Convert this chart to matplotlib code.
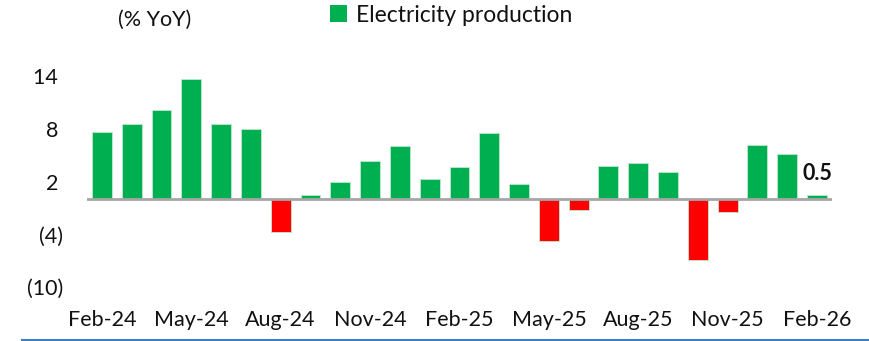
import matplotlib
matplotlib.use("Agg")
import matplotlib.pyplot as plt
from matplotlib.patches import Patch
from matplotlib.lines import Line2D

plt.rcParams['font.family'] = ['Lato', 'DejaVu Sans']

months = ["Feb-24", "Mar-24", "Apr-24", "May-24", "Jun-24", "Jul-24", "Aug-24",
          "Sep-24", "Oct-24", "Nov-24", "Dec-24", "Jan-25", "Feb-25", "Mar-25",
          "Apr-25", "May-25", "Jun-25", "Jul-25", "Aug-25", "Sep-25", "Oct-25",
          "Nov-25", "Dec-25", "Jan-26", "Feb-26"]
yoy = [7.6, 8.6, 10.2, 13.7, 8.5, 8.0, -3.7, 0.5, 2.0, 4.4, 6.1, 2.3, 3.7, 7.5,
       1.7, -4.7, -1.2, 3.8, 4.1, 3.1, -6.9, -1.5, 6.2, 5.1, 0.5]
y_ticks = [-10, -4, 2, 8, 14]
y_tick_labels = ["(10)", "(4)", "2 ", "8 ", "14 "]
series_name = "Electricity production"

GREEN = "#00b050"
RED = "#ff0000"
TEXT = "#111111"

fig = plt.figure(figsize=(8.69, 3.41), dpi=100)
fig.patch.set_facecolor("white")
ax = fig.add_axes([0.1001, 0.1575, 0.8573, 0.671])

x = list(range(len(months)))
colors = [GREEN if v >= 0 else RED for v in yoy]
ax.bar(x, yoy, width=0.67, color=colors, edgecolor="#bfe8cf", linewidth=0.6, zorder=2)
ax.axhline(0, color="#a6a6a6", linewidth=2, zorder=3)

ax.set_xlim(-0.5, len(months) - 0.5)
ax.set_ylim(-10, 16)
ax.set_yticks(y_ticks)
ax.set_yticklabels(y_tick_labels)
ax.set_xticks(x[::3])
ax.set_xticklabels(months[::3])
ax.tick_params(axis="y", length=0, pad=17, labelsize=15.5, labelcolor=TEXT)
ax.tick_params(axis="x", length=0, pad=16, labelsize=15.5, labelcolor=TEXT)
for s in ax.spines.values():
    s.set_visible(False)
ax.set_facecolor("none")

# value label on the latest month
ax.annotate(f"{yoy[-1]:.1f}", xy=(x[-1], yoy[-1]), xytext=(0, 8),
            textcoords="offset points", ha="center", va="bottom",
            fontsize=15.5, fontweight="bold", color=TEXT)

fig.text(155 / 869, 1 - 20 / 341, "(% YoY)", ha="center", va="center",
         fontsize=15.5, color=TEXT)

handle = Patch(facecolor=GREEN, edgecolor="none")
fig.legend([handle], [series_name], loc="center left",
           bbox_to_anchor=(319 / 869, 1 - 15 / 341), frameon=False,
           fontsize=16.5, handlelength=0.72, handleheight=0.72,
           handletextpad=0.4, borderpad=0, labelcolor=TEXT)

fig.add_artist(Line2D([22 / 869, 1.0], [1 - 339.5 / 341] * 2,
                      transform=fig.transFigure, color="#3d7fc1", linewidth=1.5))

fig.savefig("out.png", dpi=100, facecolor=fig.get_facecolor())
